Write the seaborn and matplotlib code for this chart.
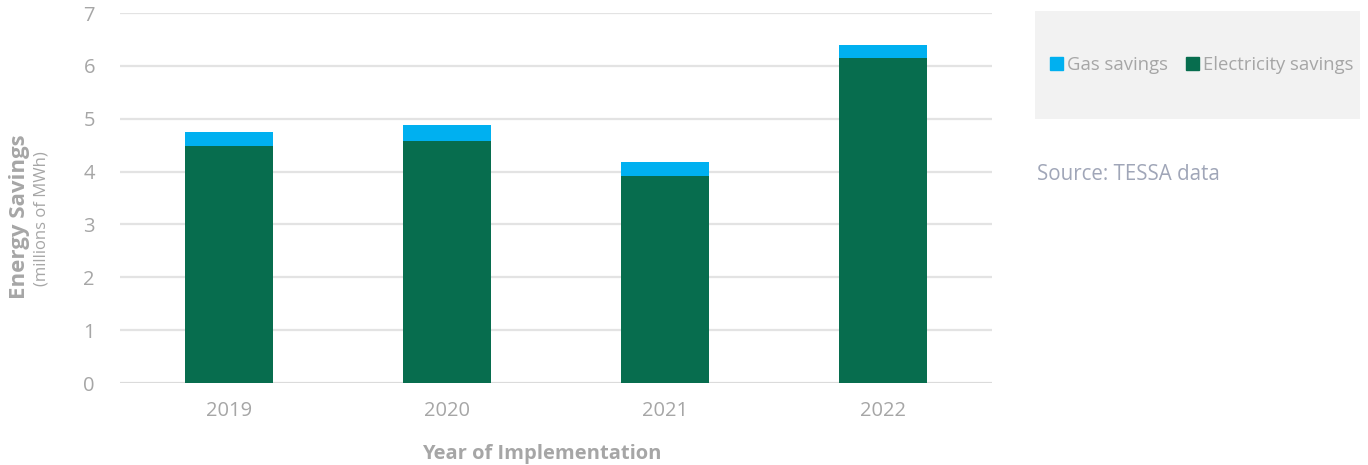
import matplotlib
matplotlib.use("Agg")
import matplotlib.pyplot as plt
from matplotlib.patches import Rectangle
import seaborn as sns
import pandas as pd

years = ["2019", "2020", "2021", "2022"]
electricity_savings = [4.48, 4.58, 3.92, 6.15]
gas_savings = [0.26, 0.31, 0.26, 0.24]
y_ticks = [0, 1, 2, 3, 4, 5, 6, 7]

ELEC_COLOR = "#076d4e"
GAS_COLOR = "#00b0f0"
TEXT_GRAY = "#a6a6a6"

sns.set_theme(style="white")
plt.rcParams["font.family"] = ["Open Sans", "DejaVu Sans"]

df = pd.DataFrame({
    "year": years,
    "electricity": electricity_savings,
    "gas": gas_savings,
})
df["total"] = df["electricity"] + df["gas"]

fig = plt.figure(figsize=(13.68, 4.65), dpi=100)
ax = fig.add_axes([0.0877, 0.1763, 0.6374, 0.7957])

# stacked bars: total (gas on top) drawn first, electricity over it
sns.barplot(data=df, x="year", y="total", color=GAS_COLOR, width=0.4,
            saturation=1, linewidth=0, ax=ax, zorder=3)
sns.barplot(data=df, x="year", y="electricity", color=ELEC_COLOR, width=0.4,
            saturation=1, linewidth=0, ax=ax, zorder=4)

ax.set_xlim(-0.5, 3.5)
ax.set_ylim(0, 7)
ax.set_yticks(y_ticks)
ax.yaxis.grid(True, color="#e3e3e3", linewidth=1.6, zorder=0)
ax.set_axisbelow(True)
ax.axhline(0, color="#d9d9d9", linewidth=1.8, zorder=2)
for s in ax.spines.values():
    s.set_visible(False)
ax.tick_params(axis="both", length=0, labelsize=14.5, labelcolor=TEXT_GRAY)
ax.tick_params(axis="y", pad=18)
ax.tick_params(axis="x", pad=13)
ax.set_ylabel("")
ax.set_xlabel("Year of Implementation", fontsize=14.5, fontweight="bold",
              color=TEXT_GRAY)
ax.xaxis.set_label_coords(0.484, -0.164)

fig.text(0.0146, 0.535, "Energy Savings", rotation=90, ha="center", va="center",
         fontsize=16, fontweight="bold", color=TEXT_GRAY)
fig.text(0.0300, 0.530, "(millions of MWh)", rotation=90, ha="center", va="center",
         fontsize=12, color=TEXT_GRAY)

# legend panel
fig.patches.append(Rectangle((1035 / 1368, 1 - 119 / 465), 325 / 1368, 108 / 465,
                             transform=fig.transFigure, facecolor="#f2f2f2",
                             edgecolor="none", zorder=0))
handles = [Rectangle((0, 0), 1, 1, color=GAS_COLOR),
           Rectangle((0, 0), 1, 1, color=ELEC_COLOR)]
fig.legend(handles, ["Gas savings", "Electricity savings"], ncol=2,
           loc="center", bbox_to_anchor=(1202 / 1368, 1 - 65 / 465),
           frameon=False, fontsize=13.3, labelcolor=TEXT_GRAY,
           handlelength=0.7, handleheight=0.7, handletextpad=0.2,
           columnspacing=1.0)

fig.text(1037 / 1368, 1 - 175 / 465, "Source: TESSA data", ha="left",
         va="center", fontsize=14.8, color="#a0a6b8")

fig.savefig("out.png", dpi=100)
